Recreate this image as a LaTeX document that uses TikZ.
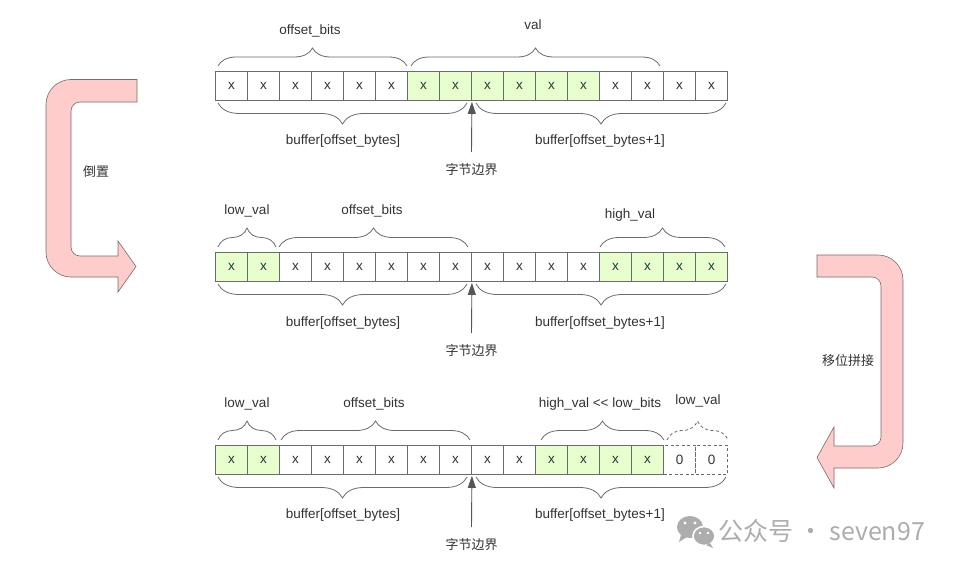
\documentclass[tikz,border=0pt]{standalone}
\usepackage{fontspec}
\setmainfont{Liberation Sans}
\newfontfamily\cjk{Noto Sans CJK SC}
\usetikzlibrary{decorations.pathreplacing,arrows.meta,calc}
\definecolor{cellline}{HTML}{6B6B6B}
\definecolor{greenfill}{HTML}{E6FFCC}
\definecolor{pinkfill}{HTML}{FFCCCC}
\definecolor{pinkline}{HTML}{7A6A6A}
\definecolor{txt}{HTML}{333333}
\definecolor{wm}{HTML}{ADADAD}
\tikzset{
  cell/.style={draw=cellline, line width=0.8pt, minimum width=32pt, minimum height=28.5pt, inner sep=0pt, text=txt, font=\fontsize{13.5}{16}\selectfont},
  gcell/.style={cell, fill=greenfill},
  dcell/.style={cell, dashed, dash pattern=on 3pt off 2.5pt},
  lbl/.style={text=txt, inner sep=1pt, font=\fontsize{13.5}{16}\selectfont},
  clbl/.style={text=txt, inner sep=1pt, font=\cjk\fontsize{13}{15}\selectfont},
  bracetop/.style={draw=cellline, line width=0.8pt, decorate, decoration={brace, amplitude=#1}},
  bracebot/.style={draw=cellline, line width=0.8pt, decorate, decoration={brace, mirror, amplitude=#1}},
  bndarrow/.style={draw=cellline!80!black, line width=0.9pt, -{Triangle[length=12pt,width=8pt]}},
  bigarrow/.style={fill=pinkfill, draw=pinkline, line width=0.6pt}
}
\begin{document}
\begin{tikzpicture}[x=1pt,y=1pt]
\useasboundingbox (0,0) rectangle (959,-570);
\fill[white] (0,0) rectangle (959,-570);

% ---------- row 1 ----------
\foreach \i in {1,...,6,13,14,15,16} \node[cell] (a\i) at ({215.5+32*\i-16},-85.75) {x};
\foreach \i in {7,...,12} \node[gcell] (a\i) at ({215.5+32*\i-16},-85.75) {x};

\coordinate (a-ob-l) at (218,-66); \coordinate (a-ob-r) at (407,-66);
\coordinate (a-v-l) at (411,-66); \coordinate (a-v-r) at (660,-66);
\draw[bracetop=18pt] (a-ob-l) -- (a-ob-r);
\draw[bracetop=18pt] (a-v-l) -- (a-v-r);
\node[lbl] (a-ob) at (310,-31) {offset\_bits};
\node[lbl] (a-v) at (533,-25) {val};

\coordinate (a-b1-l) at (218,-103); \coordinate (a-b1-r) at (467,-103);
\coordinate (a-b2-l) at (476,-103); \coordinate (a-b2-r) at (726,-103);
\draw[bracebot=21pt] (a-b1-l) -- (a-b1-r);
\draw[bracebot=21pt] (a-b2-l) -- (a-b2-r);
\node[lbl] (a-buf1) at (343,-141) {buffer[offset\_bytes]};
\node[lbl] (a-buf2) at (600,-141) {buffer[offset\_bytes+1]};
\node[clbl] (a-edge) at (471.5,-170) {字节边界};
\coordinate (a-arr) at (471.5,-152);
\draw[bndarrow] (a-arr) -- ([yshift=-1.5pt]a8.south east);

% ---------- row 2 ----------
\foreach \i in {1,2,13,14,15,16} \node[gcell] (b\i) at ({215.5+32*\i-16},-266.75) {x};
\foreach \i in {3,...,12} \node[cell] (b\i) at ({215.5+32*\i-16},-266.75) {x};

\coordinate (b-lv-l) at (218,-247); \coordinate (b-lv-r) at (276,-247);
\coordinate (b-ob-l) at (279,-247); \coordinate (b-ob-r) at (468,-247);
\coordinate (b-hv-l) at (600,-247); \coordinate (b-hv-r) at (725,-247);
\draw[bracetop=19pt] (b-lv-l) -- (b-lv-r);
\draw[bracetop=19pt] (b-ob-l) -- (b-ob-r);
\draw[bracetop=19pt] (b-hv-l) -- (b-hv-r);
\node[lbl] (b-lv) at (247,-211) {low\_val};
\node[lbl] (b-ob) at (372,-211) {offset\_bits};
\node[lbl] (b-hv) at (630,-215) {high\_val};

\coordinate (b-b1-l) at (218,-284); \coordinate (b-b1-r) at (467,-284);
\coordinate (b-b2-l) at (476,-284); \coordinate (b-b2-r) at (726,-284);
\draw[bracebot=21pt] (b-b1-l) -- (b-b1-r);
\draw[bracebot=21pt] (b-b2-l) -- (b-b2-r);
\node[lbl] (b-buf1) at (343,-323) {buffer[offset\_bytes]};
\node[lbl] (b-buf2) at (600,-323) {buffer[offset\_bytes+1]};
\node[clbl] (b-edge) at (471.5,-351) {字节边界};
\coordinate (b-arr) at (471.5,-333);
\draw[bndarrow] (b-arr) -- ([yshift=-1.5pt]b8.south east);

% ---------- row 3 ----------
\foreach \i in {1,2,11,12,13,14} \node[gcell] (c\i) at ({215.5+32*\i-16},-459.75) {x};
\foreach \i in {3,...,10} \node[cell] (c\i) at ({215.5+32*\i-16},-459.75) {x};
\foreach \i in {15,16} \node[dcell] (c\i) at ({215.5+32*\i-16},-459.75) {0};

\coordinate (c-lv-l) at (218,-440); \coordinate (c-lv-r) at (276,-440);
\coordinate (c-ob-l) at (281,-440); \coordinate (c-ob-r) at (470,-440);
\coordinate (c-hv-l) at (541,-440); \coordinate (c-hv-r) at (664,-440);
\coordinate (c-lv2-l) at (667,-440); \coordinate (c-lv2-r) at (728,-440);
\draw[bracetop=19pt] (c-lv-l) -- (c-lv-r);
\draw[bracetop=19pt] (c-ob-l) -- (c-ob-r);
\draw[bracetop=19pt] (c-hv-l) -- (c-hv-r);
\draw[bracetop=19pt, dashed, dash pattern=on 3pt off 2.5pt] (c-lv2-l) -- (c-lv2-r);
\node[lbl] (c-lv) at (247,-404) {low\_val};
\node[lbl] (c-ob) at (374,-404) {offset\_bits};
\node[lbl] (c-hv) at (600,-404) {high\_val <{}< low\_bits};
\node[lbl] (c-lv2) at (698,-401) {low\_val};

\coordinate (c-b1-l) at (218,-477); \coordinate (c-b1-r) at (467,-477);
\coordinate (c-b2-l) at (476,-477); \coordinate (c-b2-r) at (726,-477);
\draw[bracebot=21pt] (c-b1-l) -- (c-b1-r);
\draw[bracebot=21pt] (c-b2-l) -- (c-b2-r);
\node[lbl] (c-buf1) at (343,-515) {buffer[offset\_bytes]};
\node[lbl] (c-buf2) at (600,-515) {buffer[offset\_bytes+1]};
\node[clbl] (c-edge) at (471.5,-545) {字节边界};
\coordinate (c-arr) at (471.5,-527);
\draw[bndarrow] (c-arr) -- ([yshift=-1.5pt]c8.south east);

% ---------- big arrows ----------
\draw[bigarrow] (137,-79.5) [rounded corners=25pt] -- (46,-79.5) -- (46,-277) [sharp corners] -- (118,-277) -- (118,-292) -- (136,-266.5) -- (118,-241) -- (118,-256) [rounded corners=9pt] -- (71,-256) -- (71,-102) [sharp corners] -- (137,-102) -- cycle;
\node[clbl] (flip) at (96,-172) {倒置};

\draw[bigarrow] (817,-255) [rounded corners=25pt] -- (903,-255) -- (903,-468) [sharp corners] -- (834,-468) -- (834,-488) -- (817,-457.5) -- (834,-427) -- (834,-446) [rounded corners=9pt] -- (881,-446) -- (881,-277) [sharp corners] -- (817,-277) -- cycle;
\node[clbl] (shift) at (848,-361) {移位拼接};

% ---------- watermark ----------
\fill[wm] (690,-527) ellipse [x radius=13pt, y radius=11pt];
\fill[wm] (681,-535) -- (679,-542) -- (687,-537) -- cycle;
\draw[white, line width=1.6pt, fill=wm] (704,-536) ellipse [x radius=11pt, y radius=9.5pt];
\fill[wm] (710,-543) -- (713,-548) -- (706,-545) -- cycle;
\fill[white] (685,-523) circle (1.7pt) (695,-523) circle (1.7pt) (700,-533) circle (1.4pt) (708,-533) circle (1.4pt);
\node[anchor=west, inner sep=0pt, text=wm, font=\cjk\fontsize{25}{29}\selectfont] (wmtext) at (718,-531) {公众号 · seven97};
\end{tikzpicture}
\end{document}
